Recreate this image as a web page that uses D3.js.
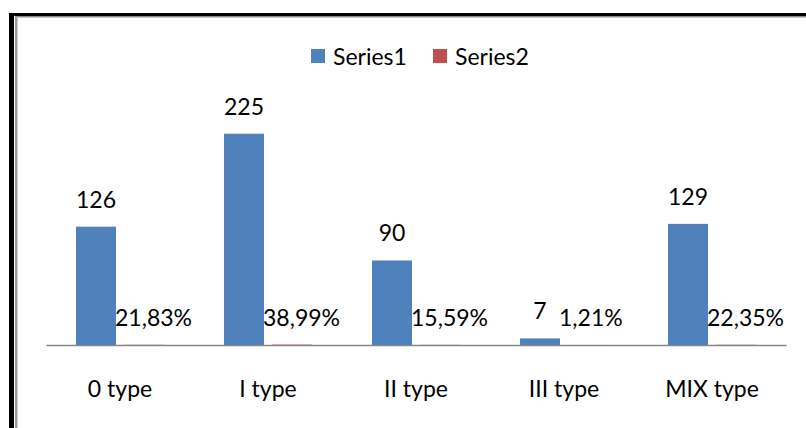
<!DOCTYPE html>
<html>
<head>
<meta charset="utf-8">
<script src="https://cdn.jsdelivr.net/npm/d3@7"></script>
<style>
  html, body { margin: 0; padding: 0; background: #fff; }
  svg { display: block; }
  text { font-family: Lato, "Open Sans", sans-serif; fill: #000; }
</style>
</head>
<body>
<svg id="chart" width="806" height="428"></svg>
<script>
const categories = ["0 type", "I type", "II type", "III type", "MIX type"];
const seriesNames = ["Series1", "Series2"];
const series1 = [126, 225, 90, 7, 129];
const series2 = [0.2183, 0.3899, 0.1559, 0.0121, 0.2235];
const series2Labels = ["21,83%", "38,99%", "15,59%", "1,21%", "22,35%"];
const colors = ["#4F81BD", "#C0504D"];

const FS = 23;
const svg = d3.select("#chart");
svg.append("rect").attr("width", 806).attr("height", 428).attr("fill", "#fff");

// frame
svg.append("rect").attr("x", 9).attr("y", 13).attr("width", 797).attr("height", 3).attr("fill", "#000");
svg.append("rect").attr("x", 9).attr("y", 13).attr("width", 5).attr("height", 415).attr("fill", "#000");
svg.append("rect").attr("x", 15).attr("y", 16).attr("width", 791).attr("height", 1).attr("fill", "#8c8c8c");
svg.append("rect").attr("x", 15).attr("y", 17).attr("width", 791).attr("height", 1).attr("fill", "#c4c4c4");
svg.append("rect").attr("x", 15).attr("y", 16).attr("width", 2).attr("height", 412).attr("fill", "#9a9a9a");
svg.append("rect").attr("x", 17).attr("y", 17).attr("width", 1).attr("height", 411).attr("fill", "#cfcfcf");

const baseY = 345;
const y = d3.scaleLinear().domain([0, 250]).range([baseY, baseY - 250 * 0.939]);
const x = d3.scaleBand().domain(categories).range([46, 786]).padding(0);
const groupW = 88;
const xs = d3.scaleBand().domain(seriesNames).range([0, groupW]).paddingInner(8 / 48).paddingOuter(0);

const data = categories.map((c, i) => ({ cat: c, v: [series1[i], series2[i]], lab: [String(series1[i]), series2Labels[i]] }));

const groups = svg.append("g").selectAll("g").data(data).join("g")
  .attr("transform", d => `translate(${x(d.cat) + (x.bandwidth() - groupW) / 2},0)`);

groups.selectAll("rect").data(d => seriesNames.map((s, j) => ({ s, v: d.v[j], j })))
  .join("rect")
  .attr("x", d => xs(d.s))
  .attr("width", xs.bandwidth())
  .attr("y", d => y(d.v))
  .attr("height", d => baseY - y(d.v))
  .attr("fill", d => colors[d.j]);

// series1 labels
groups.append("text")
  .attr("x", xs("Series1") + xs.bandwidth() / 2)
  .attr("y", d => y(d.v[0]) - 19)
  .attr("text-anchor", "middle")
  .attr("font-size", FS)
  .text(d => d.lab[0]);

// series2 labels
groups.append("text")
  .attr("x", xs("Series2") - 9)
  .attr("y", d => y(d.v[1]) - 19)
  .attr("text-anchor", "start")
  .attr("font-size", FS)
  .text(d => d.lab[1]);

// axis
const axis = d3.axisBottom(x).tickSize(0).tickPadding(0);
const ag = svg.append("g").attr("transform", `translate(0,${baseY})`).call(axis);
ag.select(".domain").attr("stroke", "#868686").attr("stroke-width", 1.5);
ag.selectAll(".tick text")
  .attr("dy", null)
  .attr("y", 52)
  .attr("font-size", FS)
  .attr("font-family", "Lato, 'Open Sans', sans-serif")
  .attr("fill", "#000");

// legend
const legendX = [311, 433];
const lg = svg.append("g").selectAll("g").data(seriesNames).join("g")
  .attr("transform", (d, i) => `translate(${legendX[i]},49)`);
lg.append("rect").attr("width", 14).attr("height", 14).attr("fill", (d, i) => colors[i]);
lg.append("text").attr("x", 22).attr("y", 16).attr("font-size", FS).text(d => d);
</script>
</body>
</html>
